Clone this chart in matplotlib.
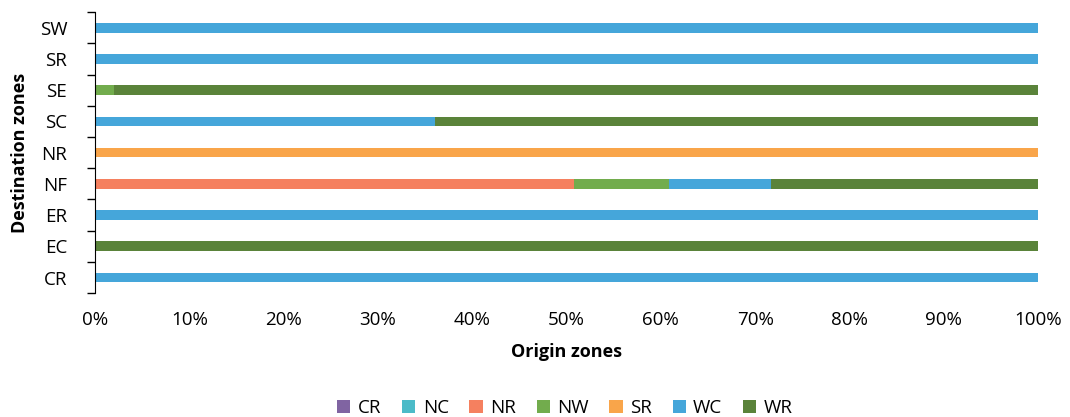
import matplotlib.pyplot as plt
import numpy as np

plt.rcParams['font.family'] = ['Open Sans', 'DejaVu Sans']

destinations = ['CR', 'EC', 'ER', 'NF', 'NR', 'SC', 'SE', 'SR', 'SW']
origins = ['CR', 'NC', 'NR', 'NW', 'SR', 'WC', 'WR']

# share of trips (%) by origin zone for each destination zone
CR = [0, 0, 0, 0, 0, 0, 0, 0, 0]
NC = [0, 0, 0, 0, 0, 0, 0, 0, 0]
NR = [0, 0, 0, 50.8, 0, 0, 0, 0, 0]
NW = [0, 0, 0, 10.1, 0, 0, 2.0, 0, 0]
SR = [0, 0, 0, 0, 100, 0, 0, 0, 0]
WC = [100, 0, 100, 10.8, 0, 36.1, 0, 100, 100]
WR = [0, 100, 0, 28.3, 0, 63.9, 98.0, 0, 0]

colors = ['#8064A2', '#4BBBC8', '#F5805F', '#72AC4D', '#F9A54A', '#45A6DA', '#5A833A']

fig = plt.figure(figsize=(10.7, 4.17), dpi=100)
ax = fig.add_axes([0.0888, 0.297, 0.8813, 0.674])

y = np.arange(len(destinations))
left = np.zeros(len(destinations))
for name, vals, c in zip(origins, [CR, NC, NR, NW, SR, WC, WR], colors):
    vals = np.array(vals, dtype=float)
    ax.barh(y, vals, left=left, height=0.31, color=c, label=name)
    left += vals

ax.set_xlim(0, 100)
ax.set_ylim(-0.5, len(destinations) - 0.5)
ax.set_xticks(np.arange(0, 101, 10))
ax.set_xticklabels([f'{v}%' for v in range(0, 101, 10)], fontsize=13.5)
ax.set_yticks(y)
ax.set_yticklabels(destinations, fontsize=13.5)
ax.set_yticks(np.arange(-0.5, len(destinations), 1), minor=True)
ax.tick_params(axis='y', which='major', length=0, pad=20)
ax.tick_params(axis='y', which='minor', length=6, width=1, color='black')
ax.tick_params(axis='x', length=0, pad=13)

for s in ['top', 'right', 'bottom']:
    ax.spines[s].set_visible(False)
ax.spines['left'].set_color('black')

ax.set_xlabel('Origin zones', fontsize=13, fontweight='bold', labelpad=10)
ax.set_ylabel('Destination zones', fontsize=13, fontweight='bold', labelpad=8)

fig.legend(*ax.get_legend_handles_labels(), loc='center', bbox_to_anchor=(0.528, 0.022),
           ncol=7, frameon=False, fontsize=13.5, handlelength=0.7, handleheight=0.7,
           handletextpad=0.4, columnspacing=1.1)

fig.savefig('out.png', dpi=100)
